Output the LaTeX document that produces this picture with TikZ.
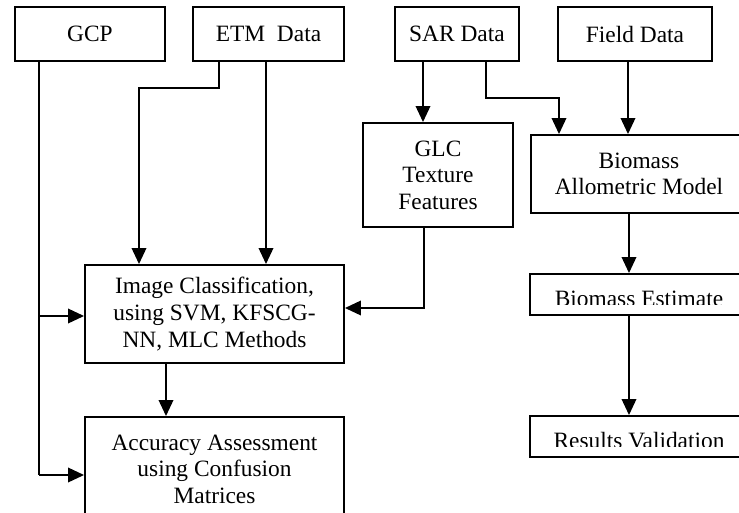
\documentclass[tikz,border=0pt]{standalone}
\usepackage{fontspec}
\setmainfont{Liberation Serif}
\usetikzlibrary{arrows.meta}
\begin{document}
\begin{tikzpicture}[x=1pt,y=-1pt,
  box/.style={draw, line width=1.9pt, rectangle, inner sep=0pt, align=center,
    font=\fontsize{23.4}{26.6}\selectfont},
  link/.style={line width=1.9pt},
  arr/.style={line width=1.9pt, -{Triangle[length=16pt,width=14.5pt]}},
  txt/.style={inner sep=0pt, align=center, font=\fontsize{23.4}{26.6}\selectfont}]
\useasboundingbox (0,0) rectangle (739,512);

% top row of data sources
\node[box, minimum width=150pt, minimum height=54pt] (gcp)   at (90,34)    {GCP};
\node[box, minimum width=151pt, minimum height=54pt] (etm)   at (268.5,34) {ETM\ \ Data};
\node[box, minimum width=124pt, minimum height=54pt] (sar)   at (457,34)   {SAR Data};
\node[box, minimum width=154pt, minimum height=54pt] (field) at (635,34)   {Field Data};

% processing steps
\node[box, minimum width=150pt, minimum height=104pt] (glc) at (438,175) {GLC\\Texture\\Features};
\node[box, minimum width=216pt, minimum height=78pt]  (bam) at (639,174) {Biomass\\Allometric Model};
\node[box, minimum width=259pt, minimum height=98pt]  (ic)  at (214.5,314)
  {Image Classification,\\using SVM, KFSCG-\\NN, MLC Methods};
\node[box, minimum width=259pt, minimum height=113pt] (acc) at (214.5,473.5) {};
\node[txt] (acctext) at (214.5,469) {Accuracy Assessment\\using Confusion\\Matrices};

% single-line boxes whose labels are cut flat at the bottom
\node[box, minimum width=217pt, minimum height=41pt] (be) at (638.5,294.5) {};
\node[box, minimum width=217pt, minimum height=41pt] (rv) at (638.5,436.5) {};
\begin{scope}
  \clip (530,274) rectangle (747,304.5);
  \node[txt, anchor=base] (betext) at (639,306) {Biomass Estimate};
\end{scope}
\begin{scope}
  \clip (530,416) rectangle (747,446.5);
  \node[txt, anchor=base] (rvtext) at (639,448) {Results Validation};
\end{scope}

% junction points of the connectors
\coordinate (g1) at (39,316);
\coordinate (g2) at (39,475);
\coordinate (e1) at (219,88);
\coordinate (e2) at (139,88);
\coordinate (e3) at (266,0);
\coordinate (s1) at (423,0);
\coordinate (s2) at (486,98);
\coordinate (s3) at (559,98);
\coordinate (f1) at (628,0);
\coordinate (t1) at (424,308);
\coordinate (c1) at (166,0);
\coordinate (b1) at (629,0);

% GCP feeds classification and accuracy assessment
\draw[link] (gcp.south -| g1) -- (g2);
\draw[arr] (g1) -- (g1 -| ic.west);
\draw[arr] (g2) -- (g2 -| acc.west);

% ETM data
\draw[arr] (etm.south -| e1) -- (e1) -- (e2) -- (e2 |- ic.north);
\draw[arr] (etm.south -| e3) -- (ic.north -| e3);

% SAR data
\draw[arr] (sar.south -| s1) -- (glc.north -| s1);
\draw[arr] (sar.south -| s2) -- (s2) -- (s3) -- (s3 |- bam.north);

% field data
\draw[arr] (field.south -| f1) -- (bam.north -| f1);

% texture features into classification
\draw[arr] (glc.south -| t1) -- (t1) -- (t1 -| ic.east);

% classification to accuracy assessment
\draw[arr] (ic.south -| c1) -- (acc.north -| c1);

% biomass chain
\draw[arr] (bam.south -| b1) -- (be.north -| b1);
\draw[arr] (be.south -| b1) -- (rv.north -| b1);
\end{tikzpicture}
\end{document}
